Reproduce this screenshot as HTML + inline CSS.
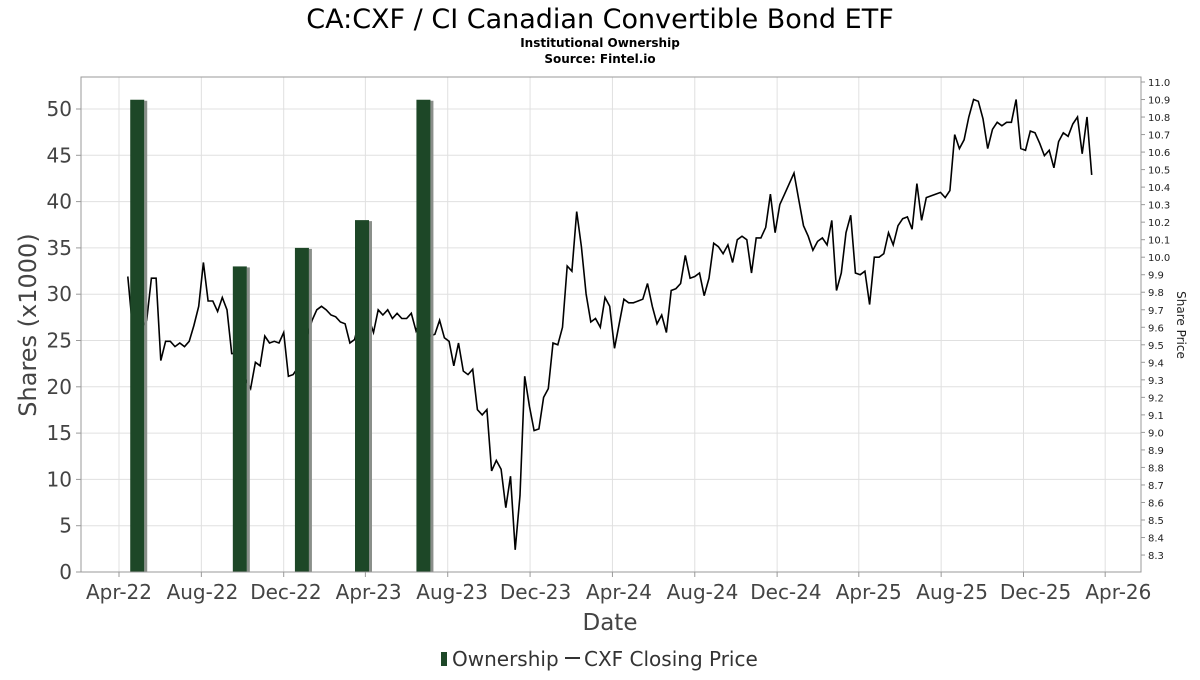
<!DOCTYPE html>
<html><head><meta charset="utf-8"><style>
body{margin:0;background:#fff;}
svg text{font-family:"DejaVu Sans","Liberation Sans",sans-serif;}
</style></head><body>
<svg id="chart" width="1200" height="675" xmlns="http://www.w3.org/2000/svg">
<text x="600" y="28" font-size="27" text-anchor="middle" fill="#000">CA:CXF / CI Canadian Convertible Bond ETF</text>
<text x="600" y="47" font-size="12" font-weight="bold" text-anchor="middle">Institutional Ownership</text>
<text x="600" y="63" font-size="12" font-weight="bold" text-anchor="middle">Source: Fintel.io</text>
<g id="grid"></g>
<g id="line"></g>
<g id="bars"></g>
<rect x="81" y="77" width="1060" height="495" fill="none" stroke="#999"/>
<g id="axes"></g>
<text transform="translate(36,325) rotate(-90)" font-size="24" fill="#444" text-anchor="middle">Shares (x1000)</text>
<text transform="translate(1177,325) rotate(90)" font-size="12" fill="#222" text-anchor="middle">Share Price</text>
<text x="610" y="630" font-size="23" fill="#444" text-anchor="middle">Date</text>
<g>
<rect x="441" y="652" width="6" height="14" fill="#1d4727"/>
<text x="452" y="666" font-size="20" fill="#333">Ownership</text>
<line x1="565" y1="658" x2="580" y2="658" stroke="#333" stroke-width="2"/>
<text x="584" y="666" font-size="20" fill="#333">CXF Closing Price</text>
</g>
</svg>
<script>
const barDates=["2022-04-28","2022-09-27","2022-12-28","2023-03-27","2023-06-26"];
const barValues=[51,33,35,38,51];
const priceStart="2022-04-14";
const prices=[9.89,9.6,9.55,9.6,9.64,9.88,9.88,9.41,9.52,9.52,9.49,9.51,9.49,9.52,9.61,9.72,9.97,9.75,9.75,9.69,9.77,9.70,9.45,9.45,9.4,9.3,9.25,9.40,9.38,9.55,9.51,9.52,9.51,9.57,9.32,9.33,9.37,9.45,9.55,9.64,9.70,9.72,9.70,9.67,9.66,9.63,9.62,9.51,9.53,9.64,9.7,9.65,9.57,9.70,9.67,9.70,9.65,9.68,9.65,9.65,9.68,9.58,9.65,9.6,9.55,9.56,9.64,9.54,9.52,9.38,9.51,9.35,9.33,9.36,9.13,9.10,9.13,8.78,8.84,8.79,8.57,8.75,8.33,8.64,9.32,9.15,9.01,9.02,9.20,9.25,9.51,9.50,9.60,9.95,9.92,10.26,10.06,9.79,9.63,9.65,9.60,9.77,9.72,9.48,9.62,9.76,9.74,9.74,9.75,9.76,9.85,9.72,9.62,9.67,9.57,9.81,9.82,9.85,10.01,9.88,9.89,9.91,9.78,9.88,10.08,10.06,10.02,10.07,9.97,10.10,10.12,10.10,9.91,10.11,10.11,10.17,10.36,10.14,10.30,10.36,10.42,10.48,10.33,10.18,10.12,10.04,10.09,10.11,10.07,10.21,9.81,9.91,10.14,10.24,9.91,9.90,9.92,9.73,10.00,10.00,10.02,10.14,10.07,10.18,10.22,10.23,10.16,10.42,10.21,10.34,10.35,10.36,10.37,10.34,10.38,10.70,10.62,10.67,10.80,10.90,10.89,10.79,10.62,10.73,10.77,10.75,10.77,10.77,10.90,10.62,10.61,10.72,10.71,10.65,10.58,10.61,10.51,10.66,10.71,10.69,10.76,10.80,10.59,10.80,10.47];
const xTickLabels=["Apr-22","Aug-22","Dec-22","Apr-23","Aug-23","Dec-23","Apr-24","Aug-24","Dec-24","Apr-25","Aug-25","Dec-25","Apr-26"];
const xTickDates=["2022-04-01","2022-08-01","2022-12-01","2023-04-01","2023-08-01","2023-12-01","2024-04-01","2024-08-01","2024-12-01","2025-04-01","2025-08-01","2025-12-01","2026-04-01"];
const yTicks=[0,5,10,15,20,25,30,35,40,45,50];
const y2Ticks=[8.3,8.4,8.5,8.6,8.7,8.8,8.9,9.0,9.1,9.2,9.3,9.4,9.5,9.6,9.7,9.8,9.9,10.0,10.1,10.2,10.3,10.4,10.5,10.6,10.7,10.8,10.9,11.0];

const NS="http://www.w3.org/2000/svg";
const D0=Date.UTC(2022,3,1);
function days(s){const p=s.split('-');return (Date.UTC(+p[0],+p[1]-1,+p[2])-D0)/864e5;}
function xs(s){return 119+0.675*days(s);}
function ys(v){return 572-9.26*v;}
function yp(v){return 82+(11.0-v)*175.2;}
function mk(tag,attrs,parent){const e=document.createElementNS(NS,tag);for(const k in attrs)e.setAttribute(k,attrs[k]);parent.appendChild(e);return e;}
const grid=document.getElementById('grid'),axes=document.getElementById('axes');
yTicks.forEach(v=>{
  const l=mk('line',{x1:81,x2:1141,y1:ys(v),y2:ys(v),stroke:'#e0e0e0'},grid);
  
  
  const t=mk('text',{x:72,y:ys(v)+7,'font-size':20,fill:'#444','text-anchor':'end'},axes);
  t.textContent=v;
  
  
  const tk=mk('line',{x1:76,x2:81,y1:ys(v),y2:ys(v),stroke:'#999'},axes);
  
  
});
xTickDates.forEach((d,i)=>{
  const x=xs(d);
  const l=mk('line',{x1:x,x2:x,y1:77,y2:572,stroke:'#e0e0e0'},grid);
  
  
  const tk=mk('line',{x1:x,x2:x,y1:572,y2:577,stroke:'#999'},axes);
  
  
  const t=mk('text',{x:x+1.1*i,y:599,'font-size':20,fill:'#444','text-anchor':'middle'},axes);
  t.textContent=xTickLabels[i];
  
  
});
y2Ticks.forEach(v=>{
  const tk=mk('line',{x1:1141,x2:1145,y1:yp(v),y2:yp(v),stroke:'#999'},axes);
  
  
  const t=mk('text',{x:1148,y:yp(v)+4,'font-size':10,fill:'#222'},axes);
  t.textContent=v.toFixed(1);
  
  
});
const bars=document.getElementById('bars');
barDates.forEach((d,i)=>{
  const x=xs(d),top=ys(barValues[i]);
  const s=mk('rect',{x:x+7,y:top+1,width:3,height:572-top-1,fill:'#8a8f8a'},bars);
  
  
  const r=mk('rect',{x:x-7,y:top,width:14,height:572-top,fill:'#1d4727'},bars);
  
  
});
const s0=days(priceStart);
const pts=prices.map((p,i)=>(119+0.675*(s0+7*i)).toFixed(1)+','+yp(p).toFixed(1)).join(' ');
const pl=mk('polyline',{points:pts,fill:'none',stroke:'#000','stroke-width':1.6,'stroke-linejoin':'miter'},document.getElementById('line'));


</script>
</body></html>
